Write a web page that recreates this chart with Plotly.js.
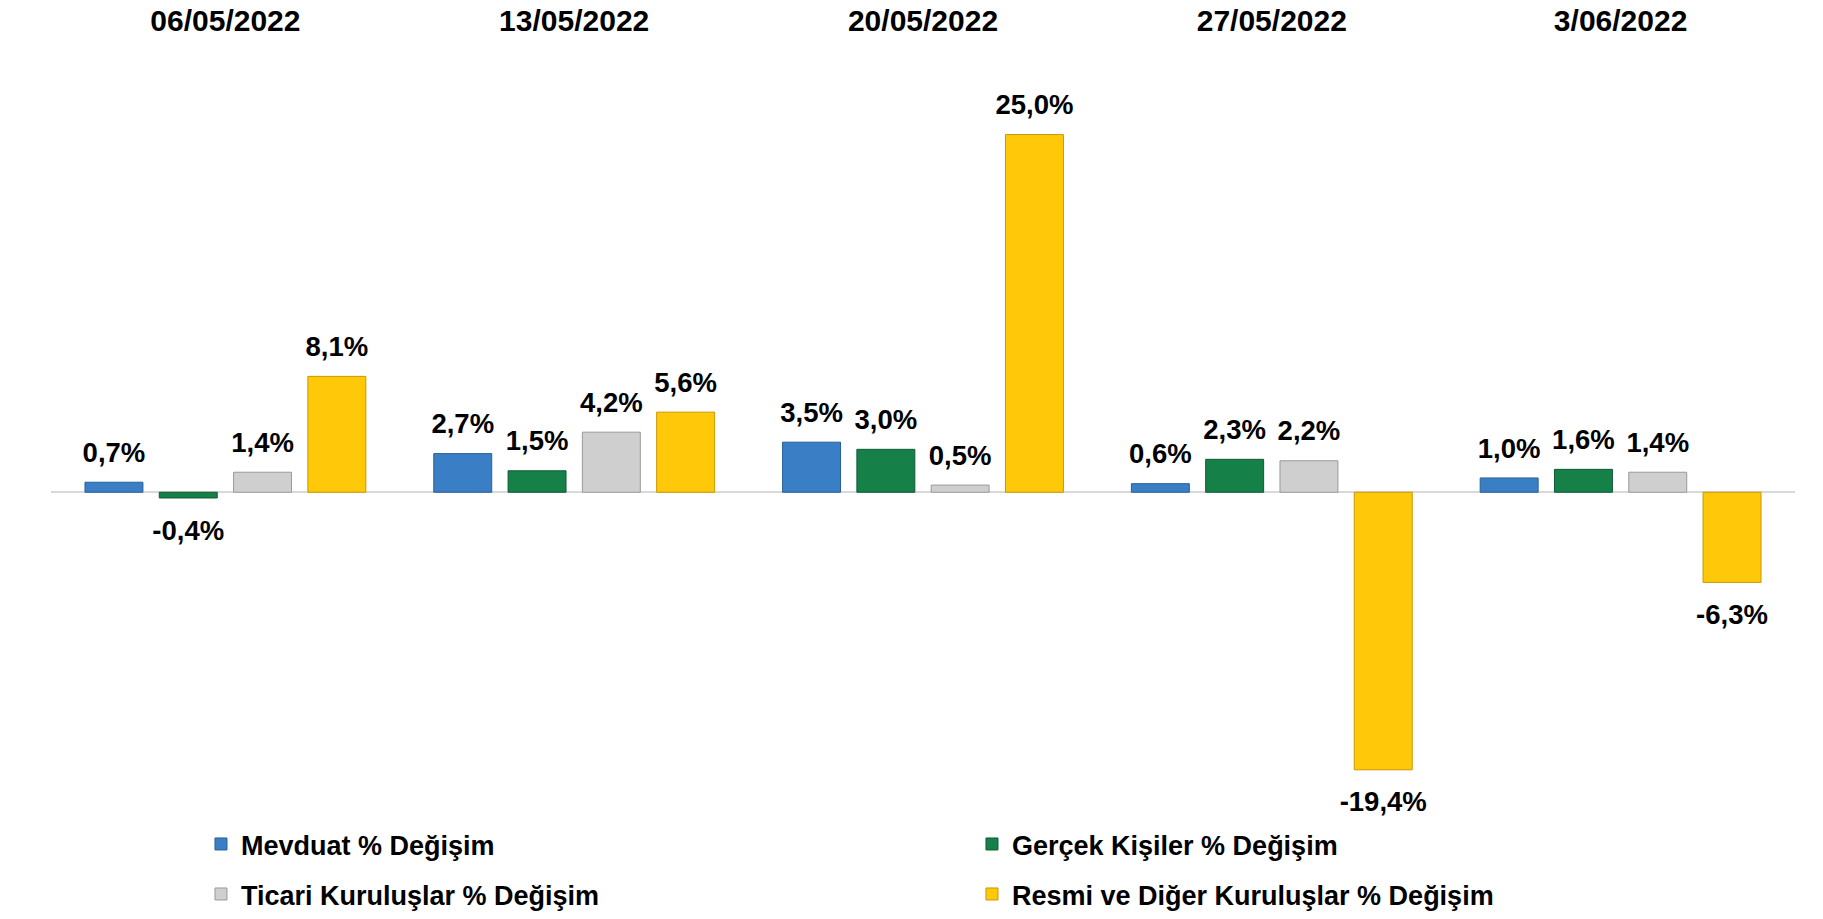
<!DOCTYPE html>
<html>
<head>
<meta charset="utf-8">
<script src="https://cdn.plot.ly/plotly-3.0.1.min.js"></script>
<style>
  html, body { margin: 0; padding: 0; background: #ffffff; }
  #chart { width: 1823px; height: 919px; }
</style>
</head>
<body>
<div id="chart"></div>
<script>
// ---- data ----
const dates = ["06/05/2022", "13/05/2022", "20/05/2022", "27/05/2022", "3/06/2022"];
const seriesNames = [
  "Mevduat % Değişim",
  "Gerçek Kişiler % Değişim",
  "Ticari Kuruluşlar % Değişim",
  "Resmi ve Diğer Kuruluşlar % Değişim"
];
const mevduat = [0.7, 2.7, 3.5, 0.6, 1.0];
const gercekKisiler = [-0.4, 1.5, 3.0, 2.3, 1.6];
const ticariKuruluslar = [1.4, 4.2, 0.5, 2.2, 1.4];
const resmiDiger = [8.1, 5.6, 25.0, -19.4, -6.3];

// ---- styles ----
const fillColors = ["#3a7fc6", "#168049", "#cfcfcf", "#ffc808"];
const edgeColors = ["#2a5f96", "#0f5a33", "#9a9a9a", "#c89800"];
const legendIds = ["legend", "legend", "legend2", "legend2"];
const FONT = "'Liberation Sans', Arial, sans-serif";

const values = [mevduat, gercekKisiler, ticariKuruluslar, resmiDiger];

const barTraces = values.map((vals, i) => ({
  type: "bar",
  name: seriesNames[i],
  legend: legendIds[i],
  x: dates,
  y: vals,
  marker: { color: fillColors[i], line: { color: edgeColors[i], width: 1 } },
  hoverinfo: "skip"
}));

// value labels, grouped like the bars (scattermode: group)
const labelTraces = values.map((vals, i) => ({
  type: "scatter",
  mode: "markers+text",
  orientation: "v",
  showlegend: false,
  x: dates,
  y: vals,
  marker: {
    color: "rgba(0,0,0,0)",
    opacity: 0,
    line: { width: 0, color: "rgba(0,0,0,0)" },
    size: vals.map(v => (v >= 0 ? 20 : 32))
  },
  texttemplate: "%{y:.1f}%",
  textposition: vals.map(v => (v >= 0 ? "top center" : "bottom center")),
  textfont: { family: FONT, size: 27.5, color: "#000000", weight: "bold" },
  cliponaxis: false,
  hoverinfo: "skip"
}));

const legendCommon = {
  orientation: "h",
  x: 0.086,
  xanchor: "left",
  yref: "container",
  yanchor: "top",
  entrywidth: 726,
  entrywidthmode: "pixels",
  traceorder: "normal",
  font: { family: FONT, size: 27, color: "#000000", weight: "bold" },
  bgcolor: "rgba(0,0,0,0)"
};

const layout = {
  width: 1823,
  height: 919,
  paper_bgcolor: "#ffffff",
  plot_bgcolor: "#ffffff",
  separators: ",.",
  margin: { l: 51, r: 28, t: 38, b: 112, autoexpand: false },
  barmode: "group",
  bargap: 0.148,
  bargroupgap: 0.22,
  scattermode: "group",
  scattergap: 0.148,
  showlegend: true,
  font: { family: FONT, color: "#000000" },
  xaxis: {
    type: "category",
    side: "top",
    showgrid: false,
    showline: false,
    ticks: "",
    tickfont: { family: FONT, size: 30, color: "#000000", weight: "bold" },
    range: [-0.5, 4.5],
    fixedrange: true
  },
  yaxis: {
    range: [-22, 31.75],
    showgrid: false,
    showticklabels: false,
    ticks: "",
    showline: false,
    zeroline: true,
    zerolinecolor: "#d9d9d9",
    zerolinewidth: 2,
    fixedrange: true
  },
  legend: Object.assign({}, legendCommon, { y: 0.1078 }),
  legend2: Object.assign({}, legendCommon, { y: 0.0534 })
};

Plotly.newPlot("chart", barTraces.concat(labelTraces), layout, { displayModeBar: false, staticPlot: true });
</script>
</body>
</html>
